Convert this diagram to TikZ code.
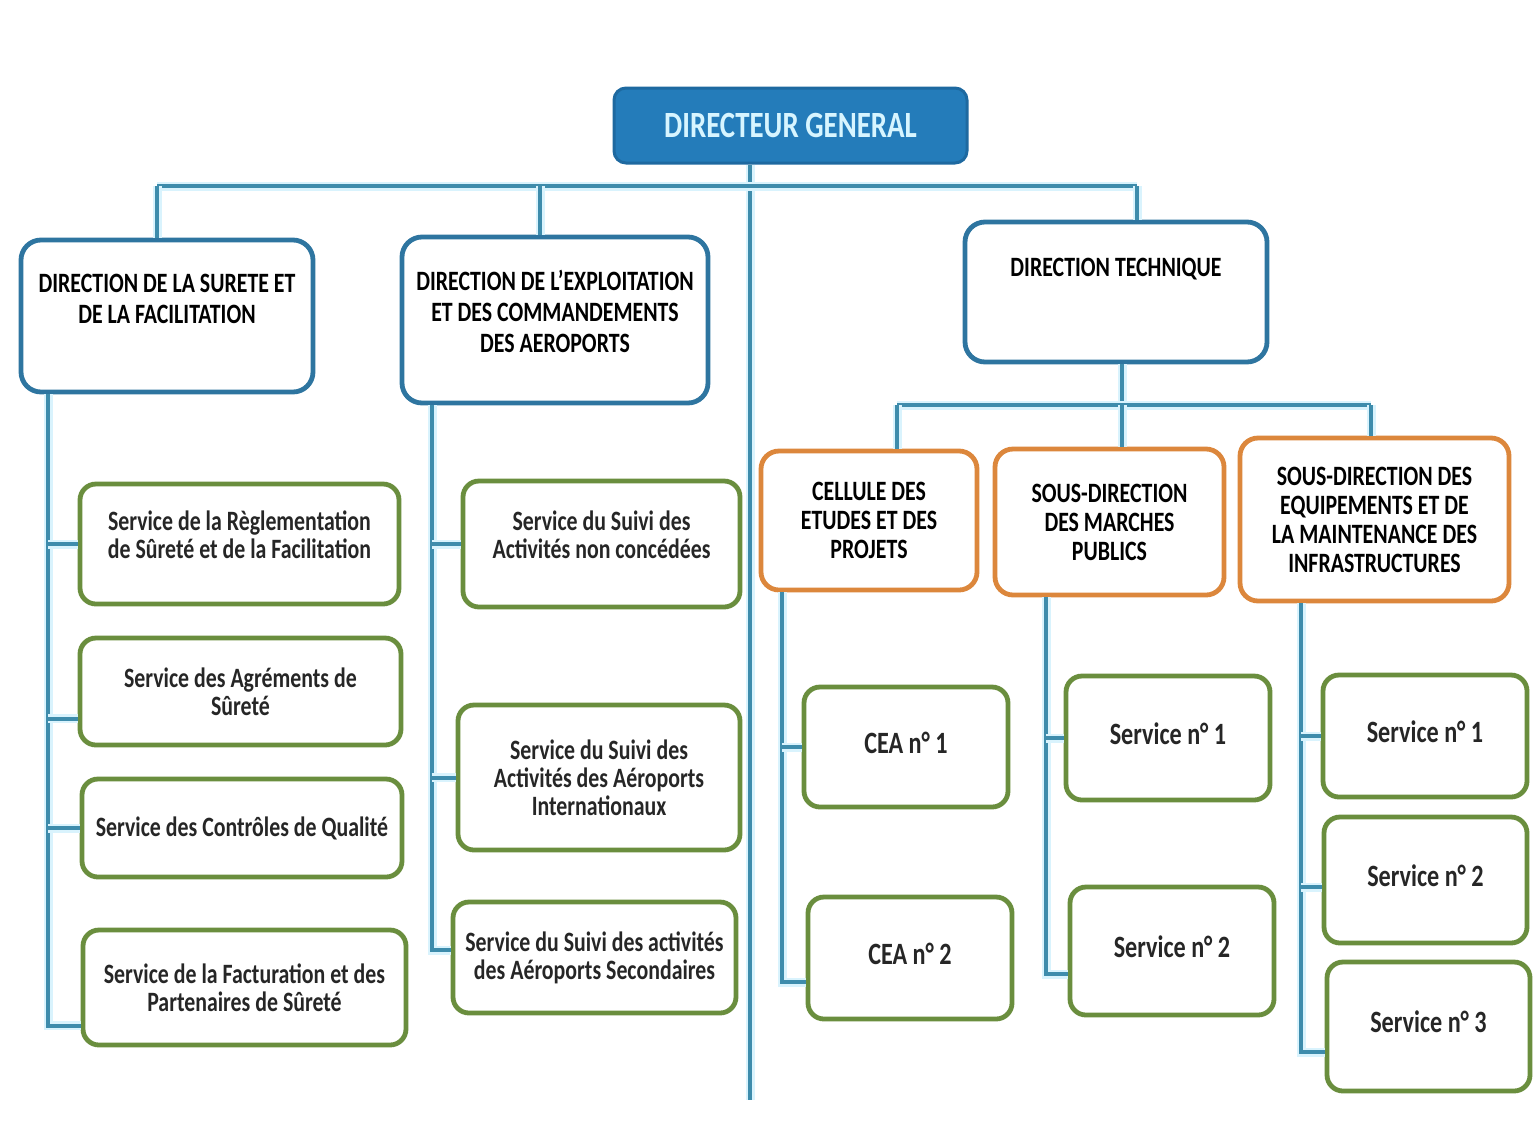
\documentclass[tikz,border=0pt]{standalone}
\usepackage{fontspec}
\setmainfont{Carlito}[FakeStretch=0.78]
\definecolor{linkblue}{RGB}{62,140,172}
\definecolor{dirblue}{RGB}{46,117,160}
\definecolor{dgfill}{RGB}{36,124,186}
\definecolor{dgborder}{RGB}{30,105,160}
\definecolor{dgtext}{RGB}{215,245,255}
\definecolor{svcgreen}{RGB}{106,142,62}
\definecolor{suborange}{RGB}{220,135,60}

\begin{document}
\begin{tikzpicture}[x=0.5pt, y=-0.5pt,
    link/.style={draw=linkblue, line width=2pt, preaction={draw=cyan!15, line width=4.5pt}},
    dgbox/.style={draw=dgborder, fill=dgfill, line width=1.5pt, rounded corners=6pt, text=dgtext, font=\fontsize{18.5}{20}\selectfont\bfseries},
    dirbox/.style={draw=dirblue, fill=white, line width=2.4pt, rounded corners=10pt, align=center, text height=10pt, font=\fontsize{14}{15.5}\selectfont\bfseries},
    subbox/.style={draw=suborange, fill=white, line width=2.4pt, rounded corners=9pt, align=center, font=\fontsize{14}{14.5}\selectfont\bfseries},
    svcbox/.style={draw=svcgreen, fill=white, line width=2.4pt, rounded corners=8pt, align=center, text=black!85, font=\fontsize{14}{14}\selectfont\bfseries},
    numbox/.style={svcbox, text height=11pt, text depth=5pt, font=\fontsize{15.5}{17}\selectfont\bfseries}
  ]
  \fill[white] (0,0) rectangle (1536,1147);
  \useasboundingbox (0,0) rectangle (1536,1147);

  % top of the chart
  \node[dgbox, minimum width=176.5pt, minimum height=37.5pt] (dg) at (790.5,125.5) {DIRECTEUR GENERAL};
  \node[dirbox, minimum width=146pt, minimum height=76pt, text depth=2.5pt] (dsf) at (167,316) {DIRECTION DE LA SURETE ET\\ DE LA FACILITATION};
  \node[dirbox, minimum width=153pt, minimum height=83pt, text height=40pt, text depth=8pt] (dec) at (555,320) {DIRECTION DE L’EXPLOITATION\\ ET DES COMMANDEMENTS\\ DES AEROPORTS};
  \node[dirbox, minimum width=151pt, minimum height=70pt, text depth=26pt] (dt) at (1116,292) {DIRECTION TECHNIQUE};

  % services of the first direction
  \node[svcbox, minimum width=159.5pt, minimum height=60pt, text height=24.5pt, text depth=10pt] (reg) at (239.5,544) {Service de la Règlementation\\ de Sûreté et de la Facilitation};
  \node[svcbox, minimum width=160.5pt, minimum height=53.5pt] (agr) at (240.5,691.5) {Service des Agréments de\\ Sûreté};
  \node[svcbox, minimum width=160pt, minimum height=49pt] (ctrl) at (242,828) {Service des Contrôles de Qualité};
  \node[svcbox, minimum width=161.5pt, minimum height=57.5pt] (fact) at (244.5,987.5) {Service de la Facturation et des\\ Partenaires de Sûreté};

  % services of the second direction
  \node[svcbox, minimum width=138.5pt, minimum height=63pt, text height=24.5pt, text depth=10pt] (nonc) at (601.5,544) {Service du Suivi des\\ Activités non concédées};
  \node[svcbox, minimum width=141pt, minimum height=72.5pt] (intl) at (599,777.5) {Service du Suivi des\\ Activités des Aéroports\\ Internationaux};
  \node[svcbox, minimum width=141.5pt, minimum height=55.5pt] (sec) at (594.5,957.5) {Service du Suivi des activités\\ des Aéroports Secondaires};

  % under the technical direction
  \node[subbox, minimum width=108pt, minimum height=69.5pt] (cep) at (869,520.5) {CELLULE DES\\ ETUDES ET DES\\ PROJETS};
  \node[subbox, minimum width=114.5pt, minimum height=73pt] (sdmp) at (1109.5,522) {SOUS-DIRECTION\\ DES MARCHES\\ PUBLICS};
  \node[subbox, minimum width=134.5pt, minimum height=81.5pt] (sdem) at (1374.5,519.5) {SOUS-DIRECTION DES\\ EQUIPEMENTS ET DE\\ LA MAINTENANCE DES\\ INFRASTRUCTURES};

  \node[numbox, minimum width=102pt, minimum height=60pt] (cea1) at (906,747) {CEA n° 1};
  \node[numbox, minimum width=102pt, minimum height=61pt] (cea2) at (910,958) {CEA n° 2};
  \node[numbox, minimum width=102pt, minimum height=62pt] (mp1) at (1168,738) {Service n° 1};
  \node[numbox, minimum width=102pt, minimum height=64pt] (mp2) at (1172,951) {Service n° 2};
  \node[numbox, minimum width=102pt, minimum height=61pt] (em1) at (1425,736) {Service n° 1};
  \node[numbox, minimum width=101.5pt, minimum height=63pt] (em2) at (1425.5,880) {Service n° 2};
  \node[numbox, minimum width=101.5pt, minimum height=64.5pt] (em3) at (1428.5,1026.5) {Service n° 3};

  % main links
  \coordinate (trunk) at (750,1100);
  \coordinate (barL) at (157,186);
  \coordinate (barM) at (540,186);
  \coordinate (barR) at (1137,186);
  \draw[link] (trunk |- dg.south) -- (trunk);
  \draw[link] (barL) -- (barR);
  \draw[link] (barL) -- (barL |- dsf.north);
  \draw[link] (barM) -- (barM |- dec.north);
  \draw[link] (barR) -- (barR |- dt.north);

  % first direction
  \coordinate (sp1) at (48,0);
  \draw[link] (sp1 |- dsf.south) |- ([yshift=-19pt]fact.west);
  \draw[link] (reg.west) -- (reg.west -| sp1);
  \draw[link] ([yshift=-13.5pt]agr.west) -- ([yshift=-13.5pt]agr.west -| sp1);
  \draw[link] (ctrl.west) -- (ctrl.west -| sp1);

  % second direction
  \coordinate (sp2) at (432,0);
  \draw[link] (sp2 |- dec.south) |- ([yshift=3.75pt]sec.west);
  \draw[link] (nonc.west) -- (nonc.west -| sp2);
  \draw[link] (intl.west) -- (intl.west -| sp2);

  % technical direction
  \coordinate (subL) at (897,405);
  \coordinate (subM) at (1122,405);
  \coordinate (subR) at (1371,405);
  \draw[link] (subM |- dt.south) -- (subM);
  \draw[link] (subL) -- (subR);
  \draw[link] (subL) -- (subL |- cep.north);
  \draw[link] (subM) -- (subM |- sdmp.north);
  \draw[link] (subR) -- (subR |- sdem.north);

  \coordinate (sp3) at (782,0);
  \draw[link] (sp3 |- cep.south) |- ([yshift=-12pt]cea2.west);
  \draw[link] (cea1.west) -- (cea1.west -| sp3);

  \coordinate (sp4) at (1046,0);
  \draw[link] (sp4 |- sdmp.south) |- ([yshift=-11.5pt]mp2.west);
  \draw[link] (mp1.west) -- (mp1.west -| sp4);

  \coordinate (sp5) at (1301,0);
  \draw[link] (sp5 |- sdem.south) |- ([yshift=-12.75pt]em3.west);
  \draw[link] (em1.west) -- (em1.west -| sp5);
  \draw[link] ([yshift=-3.5pt]em2.west) -- ([yshift=-3.5pt]em2.west -| sp5);
\end{tikzpicture}
\end{document}
